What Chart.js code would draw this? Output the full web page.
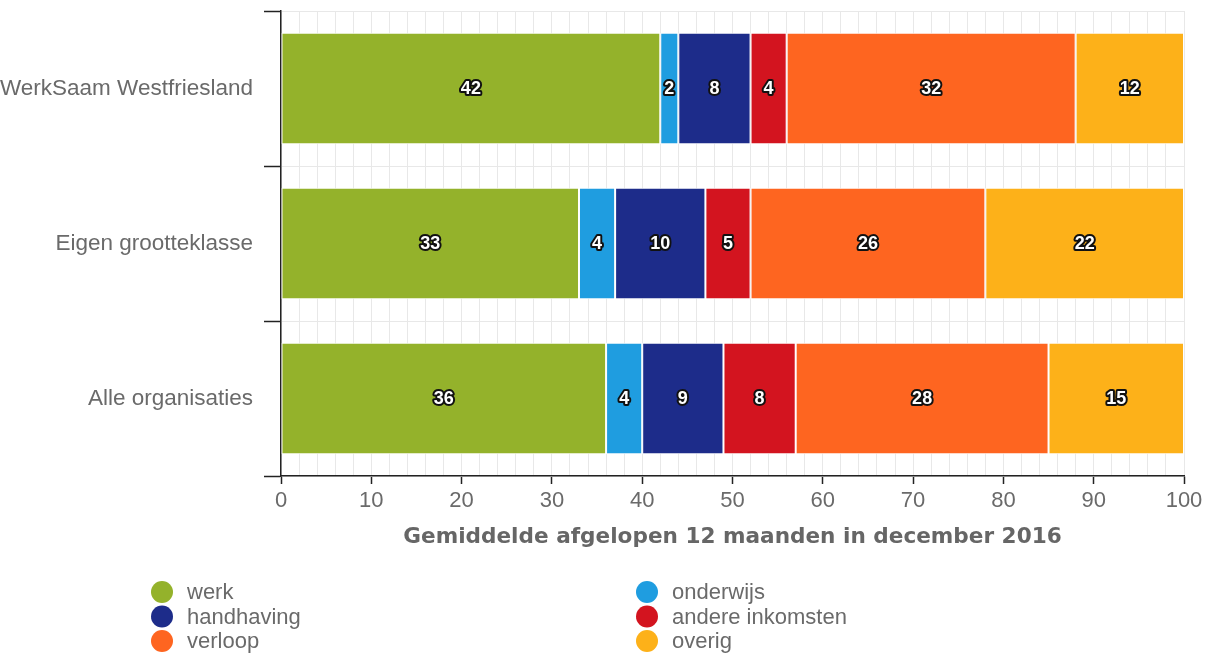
<!DOCTYPE html>
<html><head><meta charset="utf-8">
<script src="https://cdn.jsdelivr.net/npm/chart.js@4.4.0/dist/chart.umd.min.js"></script>
<style>html,body{margin:0;padding:0;background:#fff;overflow:hidden}</style>
</head><body>
<canvas id="c" width="1211" height="657"></canvas>
<script>
const categories = ['WerkSaam Westfriesland', 'Eigen grootteklasse', 'Alle organisaties'];
const seriesNames = ['werk', 'onderwijs', 'handhaving', 'andere inkomsten', 'verloop', 'overig'];
const werk = [42, 33, 36];
const onderwijs = [2, 4, 4];
const handhaving = [8, 10, 9];
const andereInkomsten = [4, 5, 8];
const verloop = [32, 26, 28];
const overig = [12, 22, 15];
const seriesColors = ['#94b22b', '#1f9de0', '#1d2c8a', '#d3141f', '#fe6520', '#fdb119'];
const xMin = 0, xMax = 100, xMinorStep = 2, xMajorStep = 10;
const axisTitle = 'Gemiddelde afgelopen 12 maanden in december 2016';

const seriesValues = [werk, onderwijs, handhaving, andereInkomsten, verloop, overig];

const barLabels = {
  id: 'barLabels',
  afterDatasetsDraw(chart) {
    const ctx = chart.ctx;
    ctx.save();
    ctx.font = 'bold 18px "Liberation Sans", Arial, sans-serif';
    ctx.textAlign = 'center';
    ctx.textBaseline = 'middle';
    ctx.lineJoin = 'round';
    ctx.lineWidth = 4;
    ctx.strokeStyle = '#111';
    ctx.fillStyle = '#fff';
    chart.data.datasets.forEach((ds, i) => {
      const meta = chart.getDatasetMeta(i);
      meta.data.forEach((bar, j) => {
        const p = bar.getProps(['x', 'y', 'base'], true);
        const cx = (p.x + p.base) / 2;
        const t = String(ds.data[j]);
        ctx.strokeText(t, cx, p.y + 1);
        ctx.fillText(t, cx, p.y + 1);
      });
    });
    ctx.restore();
  }
};

const gridLegend = {
  id: 'gridLegend',
  afterDraw(chart, args, opts) {
    const ctx = chart.ctx;
    ctx.save();
    ctx.font = '22px "Liberation Sans", Arial, sans-serif';
    ctx.textBaseline = 'middle';
    ctx.textAlign = 'left';
    chart.data.datasets.forEach((ds, i) => {
      const col = i % 2, row = Math.floor(i / 2);
      const cx = opts.colX[col];
      const cy = opts.rowY0 + row * opts.rowStep;
      ctx.beginPath();
      ctx.arc(cx, cy, opts.radius, 0, Math.PI * 2);
      ctx.fillStyle = ds.backgroundColor;
      ctx.fill();
      ctx.fillStyle = '#6a6a6a';
      ctx.fillText(ds.label, cx + opts.textGap, cy + 1);
    });
    ctx.restore();
  }
};

const datasets = seriesNames.map((name, i) => ({
  label: name,
  data: seriesValues[i],
  backgroundColor: seriesColors[i],
  borderColor: '#ffffff',
  borderWidth: 1,
  borderSkipped: false,
  barPercentage: 0.72,
  categoryPercentage: 1.0
}));

new Chart(document.getElementById('c'), {
  type: 'bar',
  data: { labels: categories, datasets },
  plugins: [barLabels, gridLegend],
  options: {
    indexAxis: 'y',
    responsive: false,
    animation: false,
    devicePixelRatio: 1,
    layout: { padding: { left: 0, right: 27, top: 11, bottom: 107 } },
    plugins: {
      legend: { display: false },
      tooltip: { enabled: false },
      gridLegend: { colX: [162, 647], rowY0: 592, rowStep: 24.5, radius: 11, textGap: 25 }
    },
    scales: {
      x: {
        type: 'linear',
        stacked: true,
        min: xMin,
        max: xMax,
        grid: {
          color: '#e8e8e8',
          tickLength: 8,
          tickColor: (c) => (c.tick && c.tick.value % xMajorStep === 0) ? '#222' : 'rgba(0,0,0,0)',
          tickWidth: 1.5
        },
        border: { color: '#222', width: 1.5 },
        ticks: {
          stepSize: xMinorStep,
          autoSkip: false,
          maxRotation: 0,
          padding: 4,
          color: '#6a6a6a',
          font: { family: '"Liberation Sans", Arial, sans-serif', size: 22 },
          callback: (v) => (v % xMajorStep === 0 ? String(v) : '')
        },
        title: {
          display: true,
          text: axisTitle,
          color: '#666',
          font: { family: '"DejaVu Sans", Verdana, sans-serif', size: 21.6, weight: 'bold' },
          padding: { top: 0, bottom: 0 }
        },
        afterFit: (s) => { s.height = 74; s.paddingLeft = 0; }
      },
      y: {
        type: 'category',
        stacked: true,
        grid: {
          color: '#e8e8e8',
          offset: true,
          tickLength: 17,
          tickColor: '#222',
          tickWidth: 1.5
        },
        border: { color: '#222', width: 1.5 },
        ticks: {
          padding: 11,
          color: '#6a6a6a',
          font: { family: '"Liberation Sans", Arial, sans-serif', size: 22.5 }
        },
        afterFit: (s) => { s.width = 281; s.paddingTop = 0; s.paddingBottom = 0; }
      }
    }
  }
});
</script>
</body></html>
